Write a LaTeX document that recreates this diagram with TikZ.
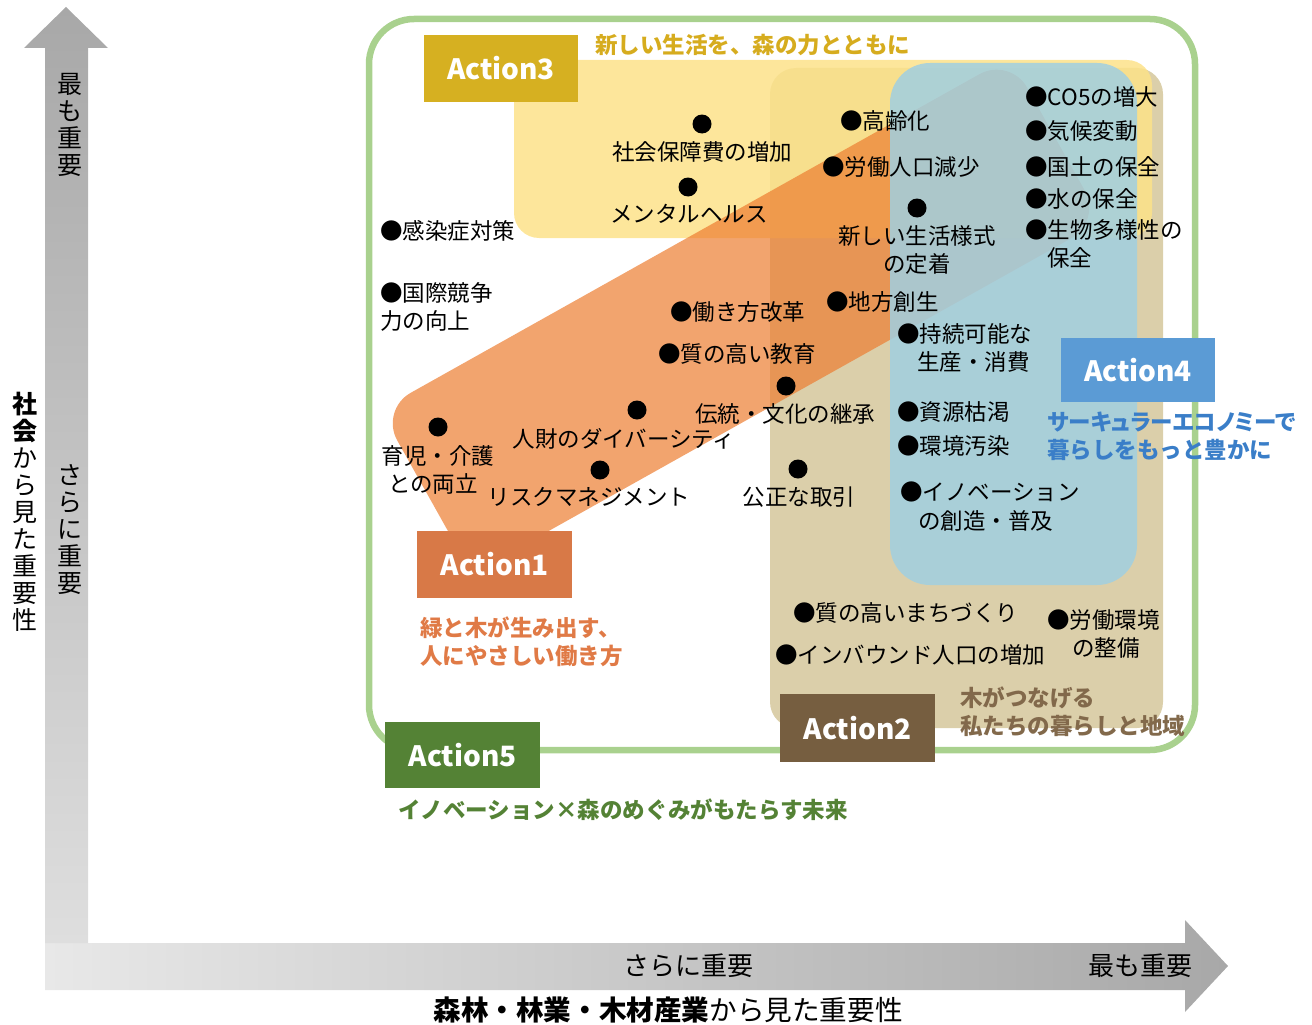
\documentclass[tikz,border=0pt]{standalone}
\usepackage{fontspec}
\setmainfont{Noto Sans CJK JP}
\usetikzlibrary{calc}
\definecolor{axdark}{RGB}{168,168,168}
\definecolor{axlight}{RGB}{222,222,222}
\definecolor{axlight2}{RGB}{232,232,232}
\definecolor{framecol}{RGB}{169,209,142}
\definecolor{tanc}{RGB}{219,207,170}
\definecolor{yelc}{RGB}{253,226,137}
\definecolor{orc}{RGB}{237,125,49}
\definecolor{bluc}{RGB}{161,207,225}
\definecolor{aonecol}{RGB}{216,121,71}
\definecolor{atwocol}{RGB}{118,94,64}
\definecolor{athreecol}{RGB}{214,176,33}
\definecolor{afourcol}{RGB}{91,155,213}
\definecolor{afivecol}{RGB}{84,130,53}
\definecolor{lonecol}{RGB}{224,122,70}
\definecolor{ltwocol}{RGB}{130,105,75}
\definecolor{lthreecol}{RGB}{214,172,30}
\definecolor{lfourcol}{RGB}{58,126,200}
\definecolor{lfivecol}{RGB}{84,130,53}
\tikzset{
  lbl/.style={inner sep=0pt, font=\fontsize{22.5}{28}\selectfont, text=black},
  lblw/.style={lbl, anchor=west},
  dot/.style={circle, fill=black, inner sep=0pt, minimum size=19pt},
  abox/.style={inner sep=0pt, text=white, font=\fontsize{28}{32}\selectfont\bfseries},
  alabel/.style={inner sep=0pt, anchor=west, font=\fontsize{22.5}{28}\selectfont\bfseries},
  axlbl/.style={inner sep=0pt, align=center, font=\fontsize{25}{27}\selectfont},
  axlblh/.style={inner sep=0pt, font=\fontsize{26}{30}\selectfont},
}
\begin{document}
\begin{tikzpicture}[x=1pt,y=-1pt]
\useasboundingbox (0,0) rectangle (1312,1025);
% axes
\shade[left color=axlight2, right color=axdark] (45,943) -- (1185,943) -- (1185,920) -- (1228,966) -- (1185,1012) -- (1185,990) -- (45,990) -- cycle;
\shade[top color=axdark, bottom color=axlight] (45,48) -- (24,48) -- (66,7) -- (108,48) -- (88,48) -- (88,943) -- (45,943) -- cycle;
\node[axlbl] (vtop) at (70,125) {最\\も\\重\\要};
\node[axlbl] (vmid) at (70,530) {さ\\ら\\に\\重\\要};
\node[axlbl] (vtitle) at (25,512) {\bfseries 社\\\bfseries 会\\か\\ら\\見\\た\\重\\要\\性};
\node[axlblh] (hmid) at (688,966) {さらに重要};
\node[axlblh] (htop) at (1140,966) {最も重要};
\node[inner sep=0pt, font=\fontsize{27.6}{30}\selectfont] (htitle) at (668,1010) {{\bfseries 森林・林業・木材産業}から見た重要性};
% frame
\draw[framecol, line width=6.5pt, rounded corners=45pt] (369,19) rectangle (1195,750);
% regions
\fill[tanc, rounded corners=26pt] (770,68) rectangle (1163,728);
\fill[yelc, opacity=0.85, rounded corners=25pt] (514,60) rectangle (1152,238);
\fill[orc, opacity=0.7, rounded corners=35pt, rotate around={29.26:(741,315.5)}] (380,221.5) rectangle (1102,409.5);
\fill[bluc, opacity=0.85, rounded corners=40pt] (890,63) rectangle (1137,585);
% items
\node[dot] (d1) at (702,124) {};
\node[lbl] (t1) at (702,152) {社会保障費の増加};
\node[dot] (d2) at (688,187) {};
\node[lbl] (t2) at (689,214) {メンタルヘルス};
\node[lblw] (t3) at (380,231) {●感染症対策};
\node[lblw] (t4a) at (380,293) {●国際競争};
\node[lblw] (t4b) at (380,321) {力の向上};
\node[lblw] (t5) at (840,121) {●高齢化};
\node[lblw] (t6) at (822,167) {●労働人口減少};
\node[dot] (d7) at (917,208) {};
\node[lbl] (t7a) at (917,236) {新しい生活様式};
\node[lbl] (t7b) at (917,264) {の定着};
\node[lblw] (t8) at (826,302) {●地方創生};
\node[lblw] (t9) at (670,312) {●働き方改革};
\node[lblw] (t10) at (658,354) {●質の高い教育};
\node[dot] (d11) at (786,386) {};
\node[lbl] (t11) at (785,414) {伝統・文化の継承};
\node[dot] (d12) at (637,410) {};
\node[lbl] (t12) at (624,439) {人財のダイバーシティ};
\node[dot] (d13) at (438,427) {};
\node[lbl] (t13a) at (438,456) {育児・介護};
\node[lbl] (t13b) at (433,484) {との両立};
\node[dot] (d14) at (600,470) {};
\node[lbl] (t14) at (589,497) {リスクマネジメント};
\node[dot] (d15) at (798,469) {};
\node[lbl] (t15) at (799,497) {公正な取引};
\node[lblw] (t16) at (1025,97) {●CO5の増大};
\node[lblw] (t17) at (1025,131) {●気候変動};
\node[lblw] (t18) at (1025,167) {●国土の保全};
\node[lblw] (t19) at (1025,199) {●水の保全};
\node[lblw] (t20a) at (1025,230) {●生物多様性の};
\node[lblw] (t20b) at (1047,258) {保全};
\node[lblw] (t21a) at (897,334) {●持続可能な};
\node[lblw] (t21b) at (917,362) {生産・消費};
\node[lblw] (t22) at (897,412) {●資源枯渇};
\node[lblw] (t23) at (897,446) {●環境汚染};
\node[lblw] (t24a) at (900,492) {●イノベーション};
\node[lblw] (t24b) at (918,521) {の創造・普及};
\node[lblw] (t25) at (793,613) {●質の高いまちづくり};
\node[lblw] (t26) at (775,655) {●インバウンド人口の増加};
\node[lblw] (t27a) at (1047,620) {●労働環境};
\node[lblw] (t27b) at (1072,648) {の整備};
% action boxes
\node[abox, fill=athreecol, minimum width=154pt, minimum height=67pt] (act3) at (501,68.5) {Action3};
\node[abox, fill=afourcol, minimum width=154pt, minimum height=64pt] (act4) at (1138,370) {Action4};
\node[abox, fill=aonecol, minimum width=155pt, minimum height=67pt] (act1) at (494.5,564.5) {Action1};
\node[abox, fill=atwocol, minimum width=155pt, minimum height=68pt] (act2) at (857.5,728) {Action2};
\node[abox, fill=afivecol, minimum width=155pt, minimum height=66pt] (act5) at (462.5,755) {Action5};
% action labels
\node[alabel, text=lthreecol] (l3) at (595,45) {新しい生活を、森の力とともに};
\node[alabel, text=lonecol] (l1a) at (420,628) {緑と木が生み出す、};
\node[alabel, text=lonecol] (l1b) at (420,656) {人にやさしい働き方};
\node[alabel, text=lfourcol] (l4a) at (1047,422) {\addfontfeatures{RawFeature=+palt}サーキュラーエコノミーで};
\node[alabel, text=lfourcol] (l4b) at (1047,450) {暮らしをもっと豊かに};
\node[alabel, text=ltwocol] (l2a) at (960,698) {木がつなげる};
\node[alabel, text=ltwocol] (l2b) at (960,726) {私たちの暮らしと地域};
\node[alabel, text=lfivecol] (l5) at (398,810) {イノベーション×森のめぐみがもたらす未来};
\end{tikzpicture}
\end{document}
